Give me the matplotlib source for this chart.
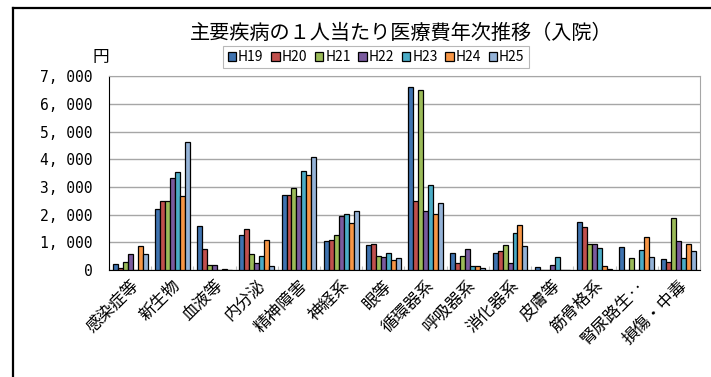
import numpy as np
import matplotlib.pyplot as plt
from matplotlib.lines import Line2D

plt.rcParams['font.family'] = ['Noto Sans CJK JP', 'DejaVu Sans']

categories = ['感染症等', '新生物', '血液等', '内分泌', '精神障害', '神経系', '眼等',
              '循環器系', '呼吸器系', '消化器系', '皮膚等', '筋骨格系', '腎尿路生‥', '損傷・中毒']
years = ['H19', 'H20', 'H21', 'H22', 'H23', 'H24', 'H25']

# 1人当たり医療費（円）各年度
h19 = [220, 2220, 1600, 1280, 2700, 1040, 910, 6620, 610, 600, 100, 1720, 830, 390]
h20 = [90, 2490, 760, 1480, 2700, 1070, 950, 2510, 270, 670, 0, 1550, 0, 300]
h21 = [280, 2500, 170, 590, 2970, 1280, 510, 6520, 520, 920, 10, 930, 450, 1880]
h22 = [570, 3340, 170, 240, 2660, 1940, 480, 2140, 770, 250, 180, 930, 0, 1060]
h23 = [0, 3540, 0, 490, 3590, 2020, 600, 3060, 160, 1350, 460, 810, 730, 420]
h24 = [860, 2660, 30, 1070, 3450, 1690, 360, 2040, 160, 1620, 0, 130, 1190, 940]
h25 = [570, 4620, 0, 150, 4100, 2150, 440, 2420, 80, 870, 0, 40, 460, 700]
series = [h19, h20, h21, h22, h23, h24, h25]

colors = ['#3F73B0', '#C0504D', '#9BBB59', '#7A5B9E', '#4BACC6', '#F79646', '#95B3D7']

fig = plt.figure(figsize=(7.11, 3.77), dpi=100)
ax = fig.add_axes([0.1533, 0.2838, 0.8312, 0.5133])

x = np.arange(len(categories))
w = 0.118
for i, vals in enumerate(series):
    ax.bar(x + (i - 3) * w, vals, width=w, color=colors[i], edgecolor='black',
           linewidth=0.9, label=years[i], zorder=3)

ax.set_xlim(-0.5, len(categories) - 0.5)
ax.set_ylim(0, 7000)
yt = np.arange(0, 7001, 1000)
ax.set_yticks(yt)
ax.set_yticklabels([f'{v:,}'.replace(',', ', ') for v in yt], family='DejaVu Sans Mono',
                   fontsize=10.5)
ax.tick_params(axis='y', length=0, pad=12)
ax.yaxis.grid(True, color='#a6a6a6', linewidth=1, zorder=0)

ax.set_xticks(np.arange(len(categories) + 1) - 0.5)
ax.set_xticklabels([])
ax.tick_params(axis='x', which='major', direction='in', length=3, color='#c0c0c0')
ax.set_xticks(x, minor=True)
ax.set_xticklabels(categories, minor=True, rotation=45, ha='right', va='top',
                   rotation_mode='anchor', fontsize=12)
ax.tick_params(axis='x', which='minor', length=0, pad=5)

ax.spines['left'].set_color('black')
ax.spines['bottom'].set_color('black')
ax.spines['top'].set_color('#a6a6a6')
ax.spines['right'].set_color('#a6a6a6')

fig.text(0.564, 0.912, '主要疾病の１人当たり医療費年次推移（入院）', ha='center', va='center',
         fontsize=14.5)
fig.text(0.142, 0.848, '円', ha='center', va='center', fontsize=12)

leg = fig.legend(loc='center', bbox_to_anchor=(0.529, 0.848), ncol=7, fontsize=10,
                 handlelength=0.6, handleheight=0.6, handletextpad=0.15,
                 columnspacing=0.55, borderpad=0.3, frameon=True, fancybox=False)
leg.get_frame().set_edgecolor('#a6a6a6')
leg.get_frame().set_linewidth(0.8)

# outer chart frame (left and top edges visible)
fx, fy = 13 / 711, 1 - 8 / 377
fig.add_artist(Line2D([fx, fx], [0, fy], transform=fig.transFigure, color='black', lw=1.6))
fig.add_artist(Line2D([fx, 0.999], [fy, fy], transform=fig.transFigure, color='black', lw=1.6))

fig.savefig('out.png', dpi=100)
